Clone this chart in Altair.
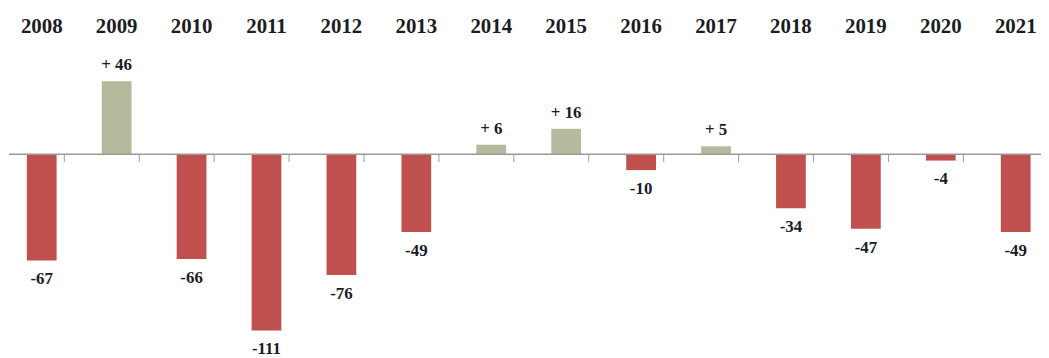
import altair as alt
import pandas as pd

years = ["2008", "2009", "2010", "2011", "2012", "2013", "2014",
         "2015", "2016", "2017", "2018", "2019", "2020", "2021"]
values = [-67, 46, -66, -111, -76, -49, 6, 16, -10, 5, -34, -47, -4, -49]

df = pd.DataFrame({"year": years, "value": values})
ticks_df = pd.DataFrame({"year": years[:-1], "y0": 0, "y1": -5})

RED = "#c0504d"
OLIVE = "#b5ba9c"
TXT = "#1c1c24"
SERIF = "Liberation Serif"

xscale = alt.Scale(domain=years, range=[0, 1049.5], paddingInner=0.603, paddingOuter=0.2516)
yscale = alt.Scale(domain=[-127.5, 66.25], nice=False, zero=False)
xaxis = alt.Axis(orient="top", title=None, domain=False, ticks=False,
                 labelAngle=0, labelFont=SERIF, labelFontWeight="bold",
                 labelFontSize=21, labelColor=TXT, labelPadding=13)


def X():
    return alt.X("year:N", scale=xscale, sort=None, axis=xaxis)


base = alt.Chart(df)

bars = base.mark_bar().encode(
    x=X(),
    y=alt.Y("value:Q", scale=yscale, axis=None),
    color=alt.condition("datum.value > 0", alt.value(OLIVE), alt.value(RED)),
)

zero = alt.Chart(pd.DataFrame({"value": [0]})).mark_rule(color="#9a9a9a", strokeWidth=1.5).encode(
    x=alt.value(1), x2=alt.value(1041), y=alt.Y("value:Q", scale=yscale, axis=None)
)

ticks = alt.Chart(ticks_df).mark_rule(color="#9a9a9a", strokeWidth=1).encode(
    x=X(),
    xOffset=alt.value(37.75),
    y=alt.Y("y0:Q", scale=yscale, axis=None),
    y2="y1:Q",
)

pos_labels = base.transform_filter("datum.value > 0").transform_calculate(
    lab="'+ ' + datum.value"
).mark_text(font=SERIF, fontWeight="bold", fontSize=17, color=TXT,
            baseline="middle", dy=-16).encode(
    x=X(),
    y=alt.Y("value:Q", scale=yscale, axis=None),
    text="lab:N",
)

neg_labels = base.transform_filter("datum.value < 0").transform_calculate(
    lab="'' + datum.value"
).mark_text(font=SERIF, fontWeight="bold", fontSize=17, color=TXT,
            baseline="middle", dy=19).encode(
    x=X(),
    y=alt.Y("value:Q", scale=yscale, axis=None),
    text="lab:N",
)

chart = alt.layer(bars, zero, ticks, pos_labels, neg_labels).properties(
    width=1041, height=310,
    autosize=alt.AutoSizeParams(type="none"),
    padding={"left": 0, "top": 40, "right": 0, "bottom": 0},
).configure_view(stroke=None)

chart.save("out.html", embed_options={"renderer": "svg", "actions": False})
